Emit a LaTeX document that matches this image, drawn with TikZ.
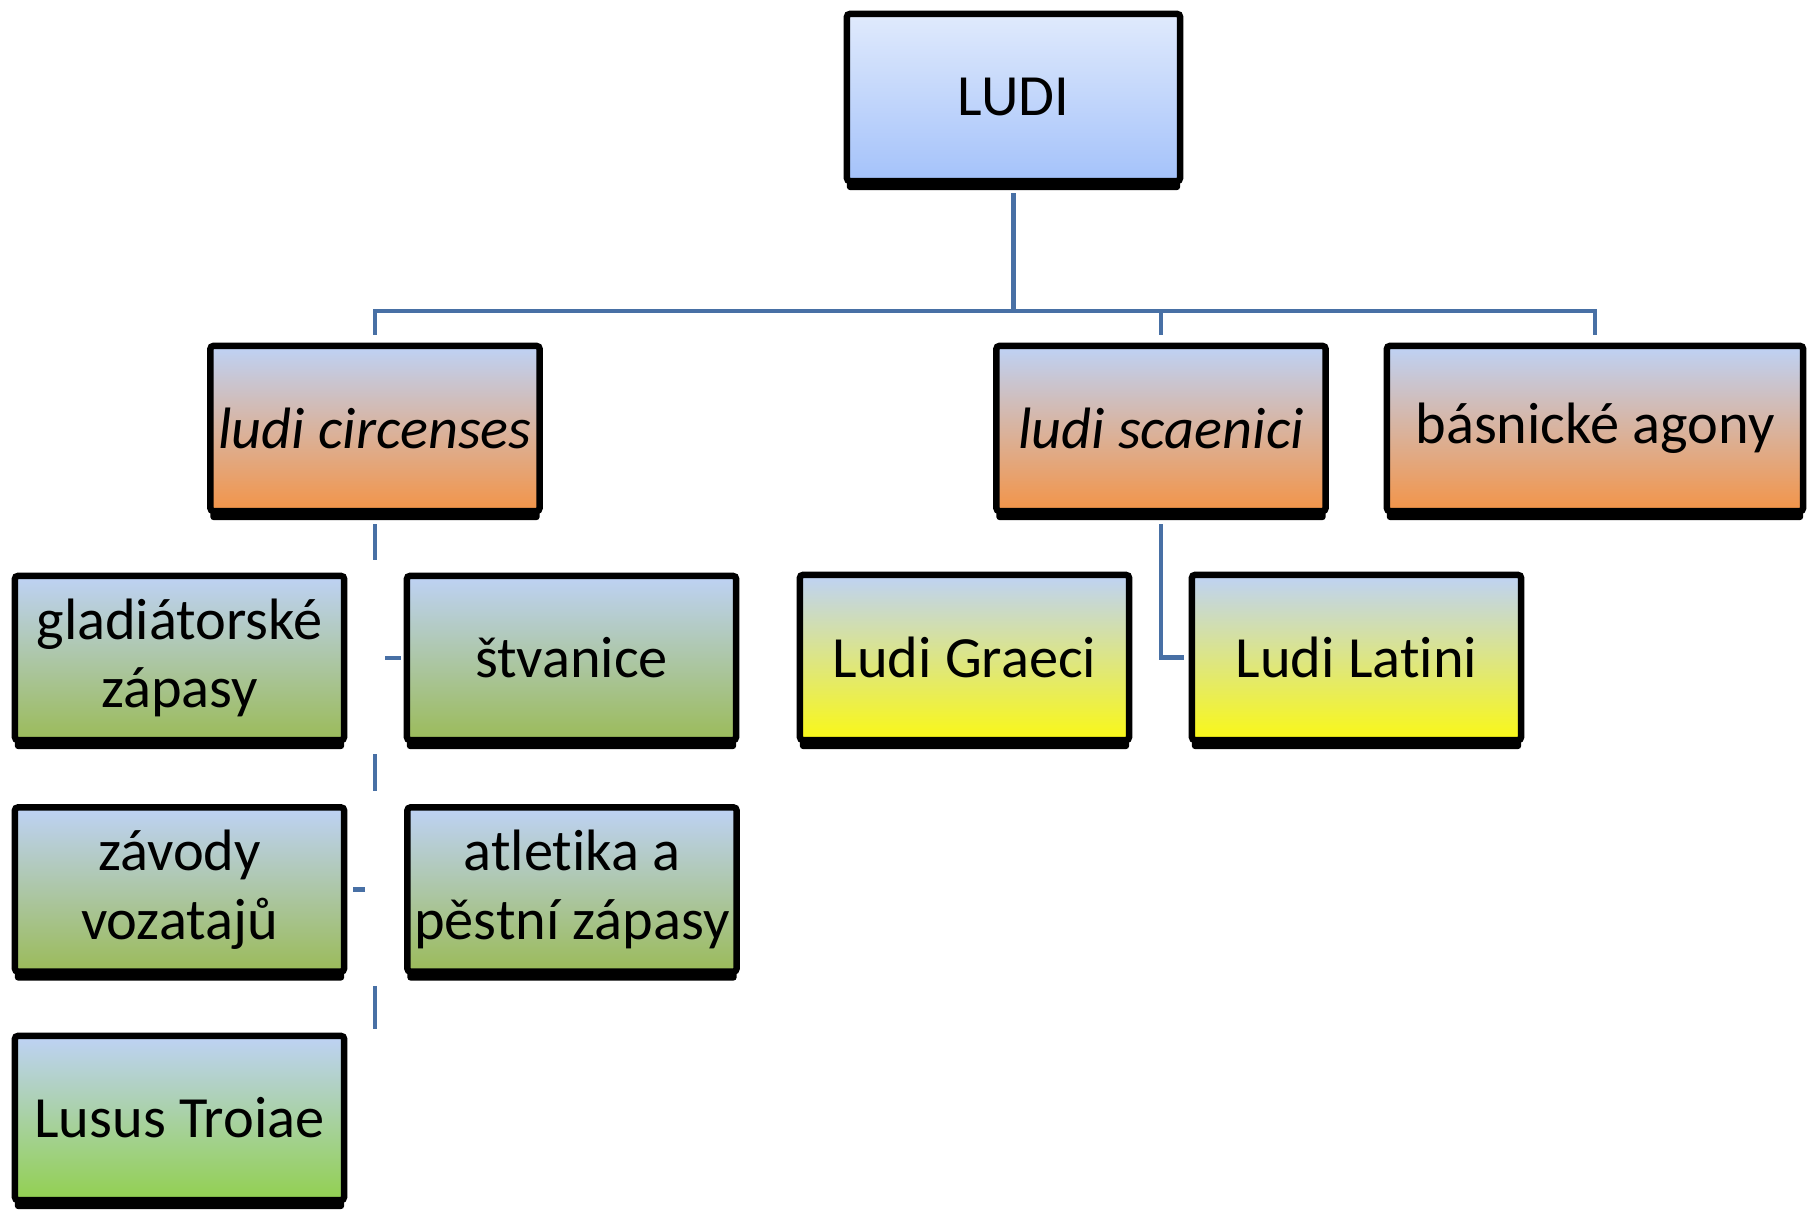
\documentclass[tikz,border=0pt]{standalone}
\usepackage{fontspec}
\setmainfont[Ligatures=NoCommon]{Carlito}
\usetikzlibrary{shadows,calc}

\definecolor{luditop}{RGB}{224,234,252}
\definecolor{ludibot}{RGB}{164,194,250}
\definecolor{topblue}{RGB}{190,210,245}
\definecolor{orangebot}{RGB}{243,148,72}
\definecolor{greenbot}{RGB}{155,187,89}
\definecolor{lusbot}{RGB}{146,208,80}
\definecolor{yellowbot}{RGB}{250,248,22}
\definecolor{linkblue}{RGB}{72,112,165}

\tikzset{
  box/.style={rectangle, draw=black, line width=0.065cm, rounded corners=0.03cm,
    minimum width=3.29cm, minimum height=1.64cm, inner sep=0.04cm, align=center,
    font=\fontsize{16.6}{19.5}\selectfont,
    general shadow={fill=black, shadow yshift=-0.09cm}},
  koren/.style={box, top color=luditop, bottom color=ludibot,
    minimum width=3.33cm, minimum height=1.67cm},
  druh/.style={box, top color=topblue, bottom color=orangebot, minimum height=1.65cm},
  hra/.style={box, top color=topblue, bottom color=greenbot},
  hralus/.style={box, top color=topblue, bottom color=lusbot},
  divadlo/.style={box, top color=topblue, bottom color=yellowbot, minimum height=1.65cm},
  link/.style={draw=linkblue, line width=0.048cm}
}

\begin{document}
\begin{tikzpicture}[x=0.01cm,y=-0.01cm]
\useasboundingbox (0,0) rectangle (1808,1210);

% Koren
\node[koren] (ludi) at (1013.5,97.5) {LUDI};

% Prvni uroven
\node[druh] (circ) at (375,428.5) {\textit{ludi circenses}};
\node[druh] (scaen) at (1161,428.5) {\textit{ludi scaenici}};
\node[druh, minimum width=4.16cm] (basn) at (1595,428.5) {básnické agony};

% Hry v cirku
\node[hra] (glad) at (179.5,658) {gladiátorské\\zápasy};
\node[hra] (stv) at (571.5,658) {štvanice};
\node[hra] (zav) at (179.5,889.5) {závody\\vozatajů};
\node[hra] (atl) at (572,889.5) {atletika a\\pěstní zápasy};
\node[hralus] (lusus) at (179.5,1118) {Lusus Troiae};

% Divadelni hry
\node[divadlo] (graeci) at (964.5,657.5) {Ludi Graeci};
\node[divadlo] (latini) at (1356.5,657.5) {Ludi Latini};

% Spojnice
\coordinate (bus) at (1013.5,311);
\draw[link] ($(ludi.south)+(0,9)$) -- (ludi.south |- bus);
\draw[link, shorten <=0.08cm, shorten >=0.08cm] (circ.north) |- (bus) -| (basn.north);
\draw[link, shorten <=0.08cm] (scaen.north) -- (scaen.north |- bus);
\draw[link, shorten <=0.1cm, shorten >=0.05cm] (scaen.south) |- (latini.west);

% Spojnice pod ludi circenses
\draw[link] ($(circ.south)+(0,10)$) -- ($(circ.south |- glad.north)+(0,-13)$);
\draw[link] ($(circ.south |- stv.west)+(10,0)$) -- ($(stv.west)+(-3,0)$);
\draw[link] ($(circ.south |- glad.south)+(0,11)$) -- ($(circ.south |- zav.north)+(0,-13)$);
\draw[link] ($(circ.south |- zav.east)+(-10,0)$) -- ($(zav.east)+(6,0)$);
\draw[link] ($(circ.south |- zav.south)+(0,11)$) -- ($(circ.south |- lusus.north)+(0,-4)$);
\end{tikzpicture}
\end{document}
